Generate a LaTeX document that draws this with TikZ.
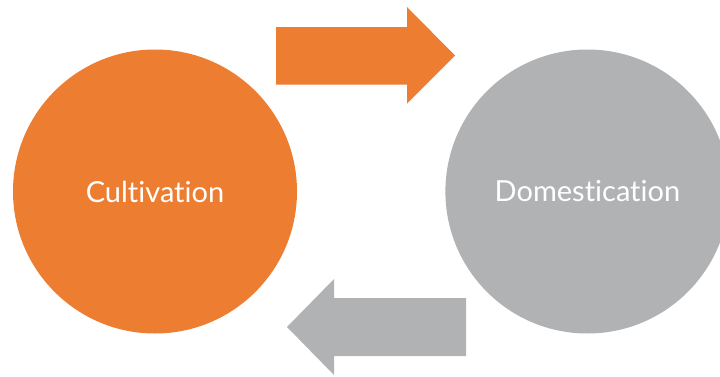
\documentclass[tikz,border=0pt]{standalone}
\usepackage{fontspec}
\setmainfont[Ligatures={NoCommon}]{Lato}
\usetikzlibrary{positioning}

\definecolor{cultorange}{HTML}{ED7D31}
\definecolor{domgray}{HTML}{B1B2B4}

\begin{document}
\begin{tikzpicture}[
    x=1pt, y=1pt,
    bignode/.style={circle, minimum size=284pt, inner sep=0pt, text=white, font=\fontsize{29}{35}\selectfont},
    cultnode/.style={bignode, fill=cultorange},
    domnode/.style={bignode, fill=domgray},
    blockarrow/.style={draw=none}
]
\useasboundingbox (0,0) rectangle (720,376);

% Circles
\node[cultnode] (cult) at (155,184.5) {Cultivation};
\node[domnode, right=148pt of cult] (dom) {Domestication};

% Forward arrow
\coordinate (fwdstart) at (276,320.5);
\fill[cultorange, blockarrow] (fwdstart) ++(0,28.5) -- ++(131,0) -- ++(0,20) -- ++(48,-48.5)
    -- ++(-48,-48) -- ++(0,19) -- ++(-131,0) -- cycle;

% Backward arrow
\coordinate (backstart) at (466,49);
\fill[domgray, blockarrow] (backstart) ++(0,29) -- ++(-132,0) -- ++(0,19) -- ++(-47,-48)
    -- ++(47,-48) -- ++(0,19) -- ++(132,0) -- cycle;

\end{tikzpicture}
\end{document}
